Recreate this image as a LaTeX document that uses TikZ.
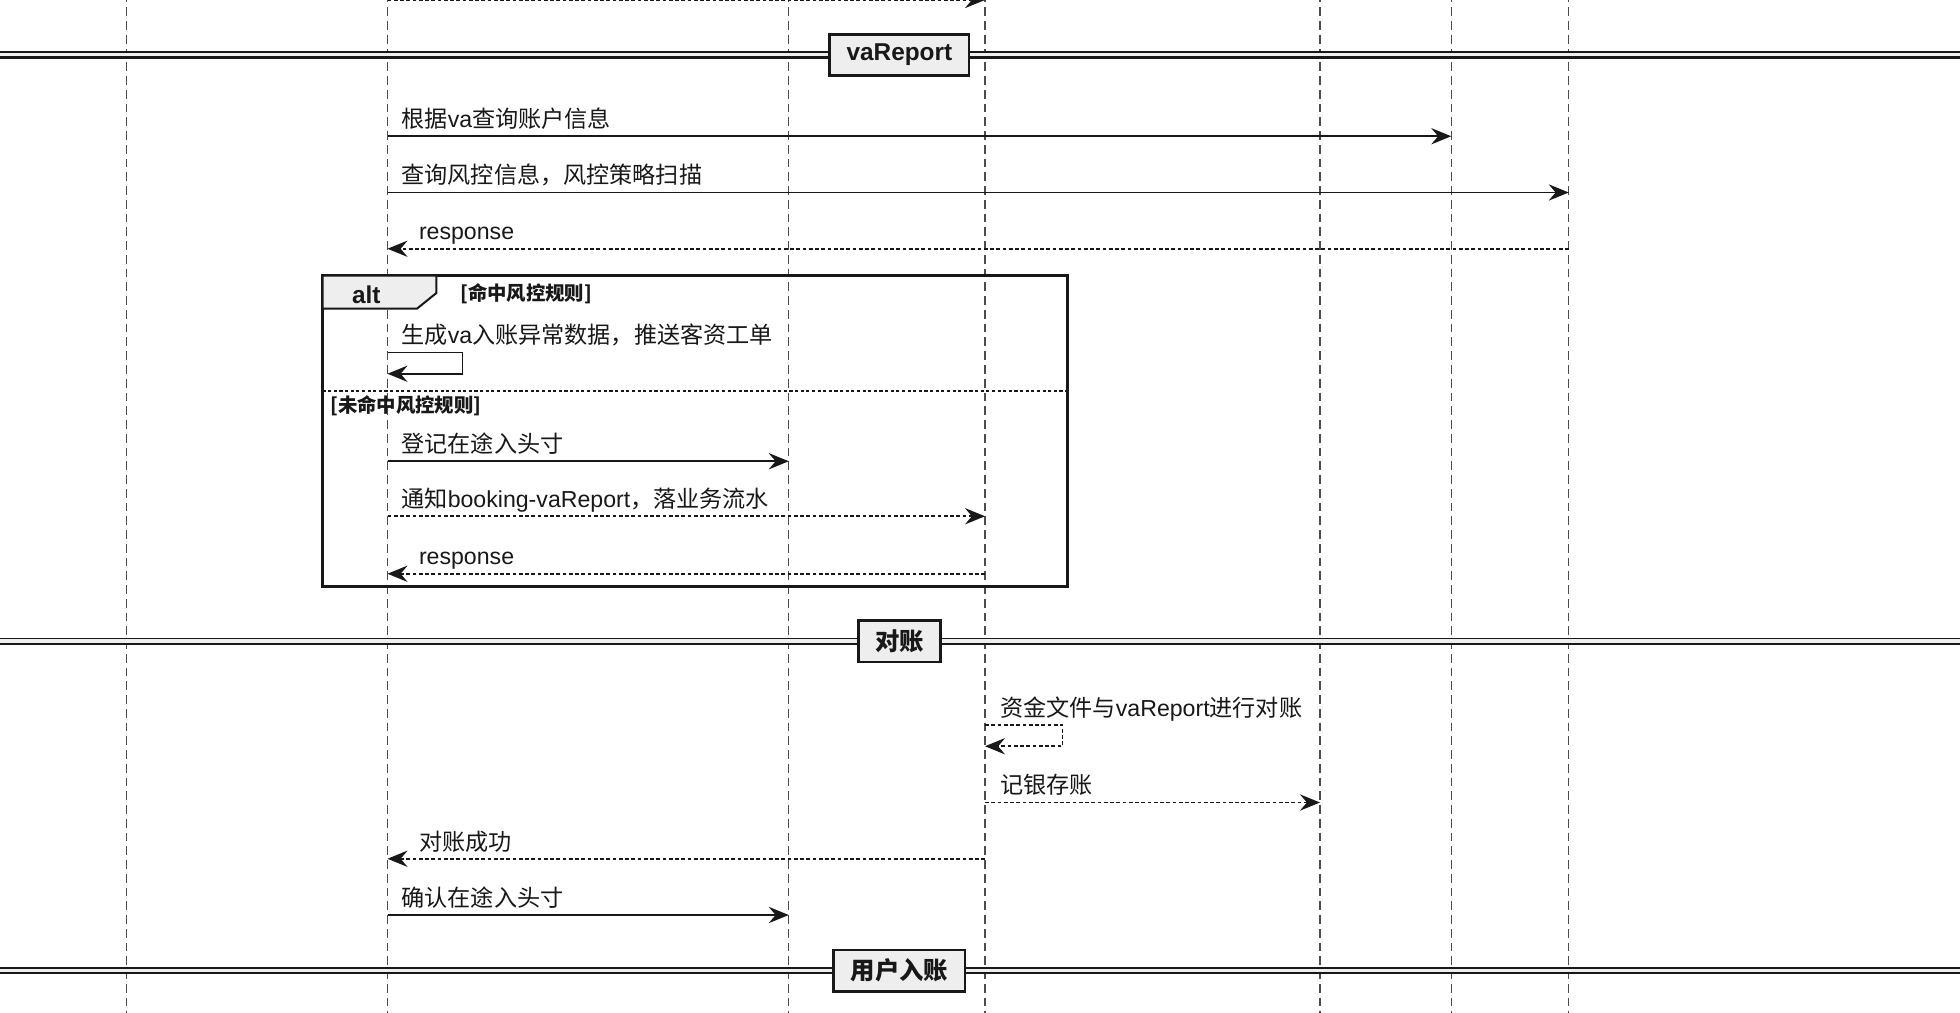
\documentclass[tikz,border=0pt]{standalone}
\usepackage{fontspec}
\setmainfont{Liberation Sans}
\newfontfamily\cjkfont{Noto Sans CJK SC}
\newcommand\zh[1]{{\cjkfont #1}}
\usetikzlibrary{arrows.meta}
\definecolor{boxgray}{HTML}{EEEEEE}
\definecolor{ink}{HTML}{181818}
\tikzset{
  lifeline/.style={draw=black!70, line width=0.9pt, dash pattern=on 7pt off 4pt},
  sync/.style={draw=ink, line width=1.4pt, -{Stealth[length=16pt,width=13pt,inset=5.5pt]}},
  reply/.style={draw=ink, line width=1.4pt, dash pattern=on 3pt off 2pt, -{Stealth[length=16pt,width=13pt,inset=5.5pt]}},
  msg/.style={anchor=base west, inner sep=0pt, font=\fontsize{18.5}{22}\selectfont, text=ink},
  guard/.style={anchor=west, inner sep=0pt, font=\fontsize{15.5}{19}\selectfont\bfseries, text=ink},
  divbox/.style={draw=ink, line width=2.2pt, fill=boxgray, inner xsep=13.5pt, inner ysep=0pt,
    minimum height=33pt, font=\fontsize{19.5}{22}\selectfont\bfseries, text=ink},
  frameline/.style={draw=ink, line width=2pt}
}
\begin{document}
\begin{tikzpicture}[x=1pt,y=-1pt]
\useasboundingbox (0,0) rectangle (1568,810);
\fill[white] (0,0) rectangle (1568,810);
% lifelines
\foreach \x/\n in {101/A,310/B,631/C,788/D,1056/E,1161/F,1255/G}{
  \coordinate (\n top) at (\x,-5);
  \coordinate (\n bot) at (\x,815);
  \draw[lifeline] (\n top) -- (\n bot);
}
% dividers
\foreach \y/\n/\t in {44/dv1/vaReport,513/dv2/\zh{对账},776.5/dv3/\zh{用户入账}}{
  \coordinate (\n l) at (0,\y);
  \coordinate (\n r) at (1568,\y);
  \fill[boxgray] ([yshift=2.2pt]\n l) rectangle ([yshift=-1.8pt]\n r);
  \draw[ink, line width=1.3pt] ([yshift=2.3pt]\n l) -- ([yshift=2.3pt]\n r);
  \draw[ink, line width=1.8pt] ([yshift=-2pt]\n l) -- ([yshift=-2pt]\n r);
  \node[divbox] (\n) at (719.5,\y) {\t};
}
% message rows
\foreach \n/\y in {r0/0,r1/109,r2/154,r3/199,r4/282,r4b/299,r5/369,r6/413,r7/459,r8/580,r8b/597,r9/642,r10/687,r11/732}{
  \coordinate (\n) at (0,\y);
}
% cut-off message at the top
\draw[reply] (Btop |- r0) -- (Dtop |- r0);
% vaReport section
\node[msg] (t1) at (321,102) {\zh{根据}va\zh{查询账户信息}};
\draw[sync] (Btop |- r1) -- (Ftop |- r1);
\node[msg] (t2) at (321,147) {\zh{查询风控信息，风控策略扫描}};
\draw[sync] (Btop |- r2) -- (Gtop |- r2);
\node[msg] (t3) at (335,191.5) {response};
\draw[reply] (Gtop |- r3) -- (Btop |- r3);
% alt frame
\coordinate (fTL) at (258,220.5);
\coordinate (fBR) at (854,469);
\draw[frameline] (fTL) rectangle (fBR);
\filldraw[fill=boxgray, draw=ink, line width=1.6pt] (fTL) -- (349,220.5) -- (349,234.5) -- (333.5,247) -- (258,247) -- cycle;
\node[inner sep=0pt, font=\fontsize{19.5}{22}\selectfont\bfseries, text=ink] (alt) at (293,235.5) {alt};
\node[guard] (g1) at (368,235) {\zh{[命中风控规则]}};
\node[msg] (t4) at (321,275) {\zh{生成}va\zh{入账异常数据，推送客资工单}};
\coordinate (s1a) at (370,282);
\coordinate (s1b) at (370,299);
\draw[sync] (Btop |- r4) -- (s1a) -- (s1b) -- (Btop |- r4b);
\draw[ink, line width=1.3pt, dash pattern=on 2.5pt off 2pt] (258,313) -- (854,313);
\node[guard] (g2) at (264,324.5) {\zh{[未命中风控规则]}};
\node[msg] (t5) at (321,362) {\zh{登记在途入头寸}};
\draw[sync] (Btop |- r5) -- (Ctop |- r5);
\node[msg] (t6) at (321,406) {\zh{通知}booking-vaReport\zh{，落业务流水}};
\draw[reply] (Btop |- r6) -- (Dtop |- r6);
\node[msg] (t7) at (335,451.5) {response};
\draw[reply] (Dtop |- r7) -- (Btop |- r7);
% reconciliation
\node[msg] (t8) at (800,573) {\zh{资金文件与}vaReport\zh{进行对账}};
\coordinate (s2a) at (850,580);
\coordinate (s2b) at (850,597);
\draw[reply] (Dtop |- r8) -- (s2a) -- (s2b) -- (Dtop |- r8b);
\node[msg] (t9) at (800,635) {\zh{记银存账}};
\draw[reply] (Dtop |- r9) -- (Etop |- r9);
\node[msg] (t10) at (335,680) {\zh{对账成功}};
\draw[reply] (Dtop |- r10) -- (Btop |- r10);
\node[msg] (t11) at (321,725) {\zh{确认在途入头寸}};
\draw[sync] (Btop |- r11) -- (Ctop |- r11);
\end{tikzpicture}
\end{document}
